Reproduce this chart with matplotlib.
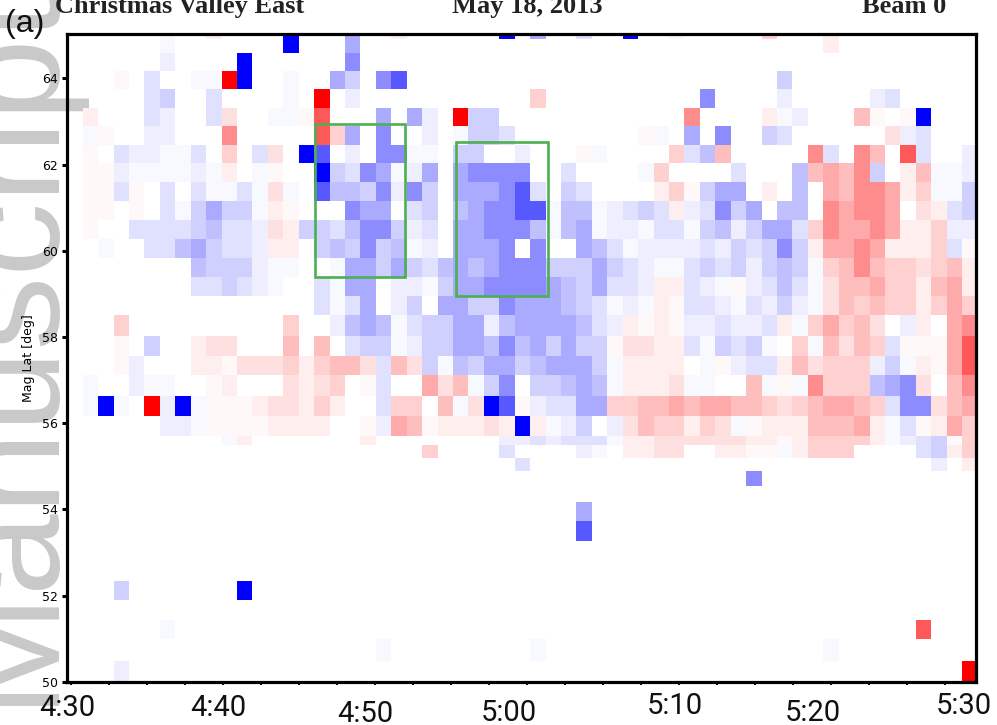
import numpy as np
import matplotlib
matplotlib.use("Agg")
import matplotlib.pyplot as plt
from matplotlib.patches import Rectangle

W, H = 997, 725

# ---------------- data ----------------
# scan grid: minutes after 4:30 UT (start of first scan, scan length)
scan_t0 = -0.243
scan_len = 1.0151
n_scans = 59

# magnetic latitude edges of the range gates (top -> bottom)
lat_edges = [65.10, 64.91, 64.59, 64.17, 63.75, 63.32, 62.90, 62.46, 62.03,
             61.59, 61.16, 60.72, 60.28, 59.83, 59.39, 58.94, 58.51, 58.02,
             57.56, 57.11, 56.63, 56.17, 55.70, 55.49, 55.19, 54.88, 54.54,
             54.17, 53.73, 53.27, 52.80, 52.34, 51.90, 51.44, 50.98, 50.49,
             49.90]

# cell codes per gate row (top -> bottom), one char per scan:
# '.' no data, '1'..'9' positive (red) levels, 'a'..'i' negative (blue) levels
cells = [
    "......a..2 ....i...f. .2......i. f..c..i..a .....4...2 .........",
    "......a... ....i...f. .......... .......... .........2 .........",
    "......b... .i......g. .......... .......... .......... .........",
    "...1.c..aa 9i..a..fd. gh........ .......... ......d... .........",
    ".....cd..c ....a.9.b. .......... 4......... .g....b... ..bc.....",
    ".2...cb..c 3..aa18... f.fb.9dd.. .......... 7....2ab.. .51.1i...",
    ".a1..bb... 7.....84f. g..b.addc. .......1a. f.g..dc... ...3bc...",
    ".1.cbbaac. 4.c3.ih.b. ggaa.dd..b ...1a....4 ce5.....7c .75.8c..b",
    ".11baaaaba 2.a1..idcg fabf.fgggg ..c....a4. ...c...e56 57d.25aab",
    ".11c1.c.ca aca3a.heed gbgd.fffgh c.dc....24 1dff.2.e.6 577624aad",
    ".11.1.cadf dda21...gf f.cd.efggh haeeabcdc2 bcgdf.ee.7 6776.32cd",
    ".1..ccccde ccb32ddceg gdbc.ffggg eaefabbacc adebdffc47 6676224bb",
    "..a..ccefd ccb22.dedg deab.fffg. g..fecabbb bcbdcdgd26 6762224c1",
    "........ed ddbaa..aff dfdcefefgg gdddfdcbaa cdcdbdeda4 575443452",
    "........cc dcba..caff .bbadffggg gfedfccb22 cba1bceca3 556442562",
    ".......... ......cacf .bd.ffddgf ffedcaba21 ccbacbdba3 545442464",
    "...4...... ....4..bef eacddffbef fffecb2121 bbcbbc2a46 453.b2.67",
    "...1.d..23 3...5.5.cd dabddffege fdfdd13322 cadcda.4a5 354c11168",
    "...1b...22 1333424553 c53daedffd efffda2222 .a1bcc2534 44bda2168",
    ".a..baa..1 2...3234.1 c..635adg. ddefea2223 aa..5a1a74 44efg3.57",
    ".aia.9bia1 11233242.. c44.5a3ih1 bccff44556 5665543456 654cgg356",
    "......bba1 1112222..1 b65122232i 2abd.b3544 243a122255 562ac1264",
    ".......... a2.......2 ........bb cbccca2233 3333221244 442abcd14",
    ".......... .......... ...4....c. ...ba.2233 ..2211a244 4....cd24",
    ".......... .......... .........c .......... .......... ......b.2",
    ".......... .......... .......... .......... ....g..... .........",
    ".......... .......... .......... .......... .......... .........",
    ".......... .......... .......... ...f...... .......... .........",
    ".......... .......... .......... ...h...... .......... .........",
    ".......... .......... .......... .......... .......... .........",
    ".......... .......... .......... .......... .......... .........",
    "...d...... .i........ .......... .......... .......... .........",
    ".......... .......... .......... .......... .......... .........",
    "......a... .......... .......... .......... .......... .....8...",
    ".......... .......... a......... a......... .........a .........",
    "...b...... .......... .......... .......... .......... ........9",
]

# normalized magnitude for each level 1..9
level_values = [0.03, 0.07, 0.12, 0.18, 0.25, 0.33, 0.45, 0.65, 1.0]

# highlighted regions (minutes after 4:30, mag lat)
box_times = [(16.05, 21.97), (25.33, 31.38)]
box_lats = [(59.38, 62.94), (58.94, 62.53)]

# x tick labels (overlaid in the original figure)
xlabels = ["4:30", "4:40", "4:50", "5:00", "5:10", "5:20", "5:30"]
xlabel_px = [67, 218, 365, 509, 675, 813, 964]
xlabel_base_px = [716, 716, 722, 721, 714, 721, 714]

ylabels = [50, 52, 54, 56, 58, 60, 62, 64]

# ---------------- build grid ----------------
Z = np.full((len(cells), n_scans), np.nan)
for r, row in enumerate(cells):
    s = row.replace(" ", "")
    assert len(s) == n_scans, (r, len(s))
    for c, ch in enumerate(s):
        if ch.isdigit():
            Z[r, c] = level_values[int(ch) - 1]
        elif ch.isalpha():
            Z[r, c] = -level_values[ord(ch) - ord('a')]

t_edges = scan_t0 + scan_len * np.arange(n_scans + 1)
y_edges = np.array(lat_edges)

# ---------------- figure ----------------
fig = plt.figure(figsize=(W / 100, H / 100), dpi=100)
fig.patch.set_facecolor("white")

def fx(px):
    return px / W

def fy(py):
    return 1 - py / H

# watermark behind everything
fig.text(fx(48), fy(705), "Manuscript", rotation=90, rotation_mode="anchor",
         ha="left", va="baseline", fontsize=106, color="#c9c9c9",
         family=["Liberation Sans", "DejaVu Sans"], zorder=0)

ax = fig.add_axes([fx(67.3), fy(681.7), fx(976) - fx(67.3), fy(34) - fy(681.7)])
ax.set_zorder(1)
ax.patch.set_alpha(0)

ax.pcolormesh(t_edges, y_edges, Z, cmap="bwr", vmin=-1, vmax=1,
              shading="flat", antialiased=False, edgecolors="none")

for (t1, t2), (l1, l2) in zip(box_times, box_lats):
    ax.add_patch(Rectangle((t1, l1), t2 - t1, l2 - l1, fill=False,
                           edgecolor="#4caf50", linewidth=1.9, zorder=5))

ax.set_xlim(scan_t0, 59.54)
ax.set_ylim(50.0, 65.03)

for sp in ax.spines.values():
    sp.set_linewidth(2.3)
    sp.set_color("black")

ax.set_xticks(np.arange(0, 59, 2.5))
ax.set_xticklabels([])
ax.tick_params(axis="x", direction="out", length=2.2, width=1.4, color="black")
ax.set_yticks(ylabels)
ax.set_yticklabels([str(v) for v in ylabels], fontsize=9, family="DejaVu Sans")
ax.tick_params(axis="y", direction="out", length=3.5, width=2.2, pad=3)
ax.set_ylabel("Mag Lat [deg]", fontsize=9, family="DejaVu Sans", labelpad=5)

for lab, px, py in zip(xlabels, xlabel_px, xlabel_base_px):
    fig.text(fx(px), fy(py), lab, ha="center", va="baseline", fontsize=21,
             family=["Roboto", "DejaVu Sans"], color="#111111")

# header
hdr = dict(fontsize=19, fontweight="bold", color="#222222", va="baseline",
           family=["Liberation Serif", "DejaVu Serif"])
fig.text(fx(55), fy(13), "Christmas Valley East", ha="left", **hdr)
fig.text(fx(527), fy(13), "May 18, 2013", ha="center", **hdr)
fig.text(fx(946), fy(13), "Beam 0", ha="right", **hdr)

fig.text(fx(5), fy(32), "(a)", ha="left", va="baseline", fontsize=23,
         family=["Liberation Sans", "DejaVu Sans"], color="#111111")

fig.savefig("out.png", dpi=100, facecolor="white")
